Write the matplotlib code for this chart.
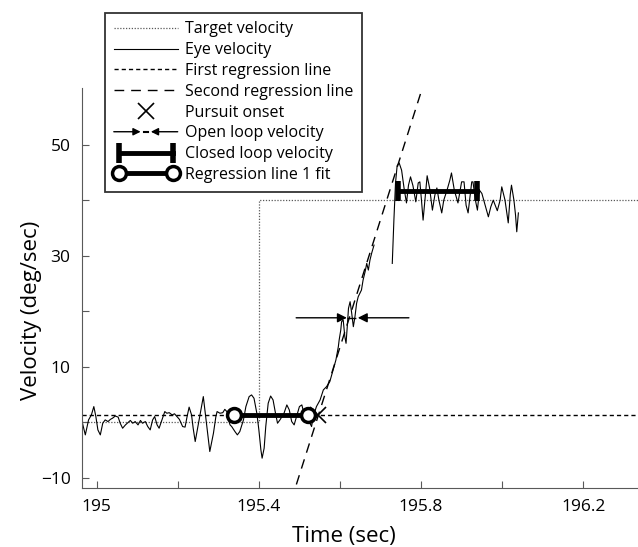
import numpy as np
import matplotlib
matplotlib.use("Agg")
import matplotlib.pyplot as plt
from matplotlib.lines import Line2D
from matplotlib.patches import FancyArrowPatch
from matplotlib.legend_handler import HandlerLine2D

plt.rcParams['font.family'] = ['Open Sans', 'DejaVu Sans']

# eye velocity trace (deg/sec), nan marks the removed saccade
eye_t = [194.964, 194.972, 194.980, 194.987, 194.993, 194.998, 195.003, 195.009, 195.015, 195.021,
         195.028, 195.034, 195.039, 195.046, 195.053, 195.058, 195.064, 195.071, 195.077, 195.083,
         195.089, 195.095, 195.102, 195.108, 195.113, 195.120, 195.126, 195.132, 195.138, 195.143,
         195.149, 195.154, 195.161, 195.168, 195.173, 195.179, 195.186, 195.192, 195.198, 195.204,
         195.212, 195.218, 195.223, 195.228, 195.234, 195.238, 195.243, 195.263, 195.279, 195.288,
         195.294, 195.297, 195.304, 195.311, 195.316, 195.321, 195.325, 195.329, 195.333, 195.341,
         195.347, 195.353, 195.362, 195.368, 195.376, 195.382, 195.388, 195.395, 195.400, 195.405,
         195.408, 195.413, 195.417, 195.423, 195.429, 195.435, 195.441, 195.446, 195.452, 195.462,
         195.469, 195.475, 195.481, 195.487, 195.493, 195.500, 195.506, 195.509, 195.514, 195.524,
         195.530, 195.534, 195.542, 195.551, 195.559, 195.567, 195.575, 195.583, 195.590, 195.593,
         195.596, 195.598, 195.602, 195.604, 195.608, 195.612, 195.615, 195.618, 195.621, 195.625,
         195.629, 195.633, 195.637, 195.641, 195.645, 195.649, 195.653, 195.657, 195.662, 195.666,
         195.670, 195.674, 195.678, 195.684, np.nan,
         195.729, 195.733, 195.737, 195.741, 195.746, 195.752, 195.758, 195.764, 195.769, 195.774,
         195.780, 195.787, 195.793, 195.797, 195.801, 195.805, 195.810, 195.815, 195.821, 195.828,
         195.834, 195.839, 195.844, 195.851, 195.856, 195.864, 195.871, 195.875, 195.882, 195.891,
         195.900, 195.906, 195.911, 195.916, 195.925, 195.928, 195.934, 195.939, 195.944, 195.950,
         195.958, 195.966, 195.972, 195.978, 195.988, 195.995, 195.999, 196.007, 196.015, 196.020,
         196.023, 196.029, 196.033, 196.036, 196.040]
eye_v = [0.1, -2.3, 0.4, 1.3, 2.8, 1.0, -1.4, -2.3, -0.2, 0.4,
         0.1, 0.5, 0.7, 1.1, 0.9, -0.2, -1.1, -0.5, -0.1, 0.3,
         -0.2, 0.1, -0.5, 0.3, -0.2, 0.1, -0.8, -1.4, 0.4, 1.0,
         -0.5, -1.1, 0.4, 1.9, 1.6, 1.7, 1.3, 1.5, 1.0, 0.5,
         -0.8, -0.9, 1.0, 2.7, 1.3, -1.1, -3.5, 4.6, -5.3, -2.0,
         1.0, 1.9, 1.6, 1.7, 2.3, 1.9, 0.4, -0.5, -0.8, -1.7,
         -2.3, -1.7, 0.4, 2.8, 4.6, 4.9, 4.3, 1.6, -1.4, -5.0,
         -6.5, -4.7, -0.8, 3.4, 4.7, 4.0, 1.6, -0.2, 0.4, 1.6,
         3.1, 2.2, 0.1, -0.5, 1.0, 2.8, 3.1, 2.2, 1.0, 0.1,
         -0.8, 1.0, 2.8, 4.0, 5.8, 6.4, 7.3, 9.4, 11.2, 12.4,
         13.6, 14.8, 16.6, 18.1, 18.4, 15.4, 14.2, 17.2, 20.5, 21.7,
         19.6, 17.2, 19.0, 21.4, 22.6, 23.2, 23.8, 25.6, 27.1, 28.6,
         27.4, 29.2, 30.4, 31.9, np.nan,
         28.6, 36.4, 43.1, 46.2, 46.7, 45.4, 42.2, 39.5, 42.7, 44.2,
         42.6, 39.7, 43.1, 43.3, 40.0, 36.4, 40.4, 44.4, 42.2, 38.2,
         40.9, 42.2, 40.0, 37.7, 40.0, 41.8, 43.6, 44.9, 41.8, 39.5,
         43.3, 43.3, 39.1, 37.7, 43.3, 43.3, 40.0, 38.2, 41.8, 41.2,
         39.1, 37.0, 38.8, 40.0, 38.1, 40.0, 42.4, 40.0, 35.9, 41.0,
         42.7, 40.0, 37.3, 34.3, 37.7]

# target step
target_step_time = 195.4
target_before = 0.0
target_after = 40.0

# regression results
reg1_level = 1.3
reg1_fit_t = [195.339, 195.521]
onset_t = 195.547
reg2_slope = 230.0  # deg/sec^2

# open loop window arrows (tail, tip)
open_left = [195.492, 195.617]
open_right = [195.770, 195.644]
open_v = 18.8

# closed loop velocity
closed_t = [195.742, 195.939]
closed_v = 41.7

x_ticks = [195.0, 195.2, 195.4, 195.6, 195.8, 196.0, 196.2]
x_labels = ['195', '', '195.4', '', '195.8', '', '196.2']
y_ticks = [-10, 0, 10, 20, 30, 40, 50]
y_labels = ['\u221210', '', '10', '', '30', '', '50']


class OpenLoopHandler:
    def legend_artist(self, legend, orig_handle, fontsize, handlebox):
        x0, y0 = handlebox.xdescent, handlebox.ydescent
        w, h = handlebox.width, handlebox.height
        ym = y0 + h / 2
        arts = [
            FancyArrowPatch((x0, ym), (x0 + 0.42 * w, ym), arrowstyle='-|>',
                            mutation_scale=11, color='k', lw=1, shrinkA=0, shrinkB=0),
            FancyArrowPatch((x0 + w, ym), (x0 + 0.58 * w, ym), arrowstyle='-|>',
                            mutation_scale=11, color='k', lw=1, shrinkA=0, shrinkB=0),
            Line2D([x0 + 0.47 * w, x0 + 0.53 * w], [ym, ym], color='k', lw=1.5),
        ]
        for a in arts:
            a.set_transform(handlebox.get_transform())
            handlebox.add_artist(a)
        return arts[0]


fig = plt.figure(figsize=(6.38, 5.47), dpi=100)
ax = fig.add_axes([0.128, 0.108, 0.872, 0.731])
xmin, xmax = 194.963, 196.335
ax.set_xlim(xmin, xmax)
ax.set_ylim(-11.86, 60.2)

h_target, = ax.plot([xmin, target_step_time, target_step_time, xmax],
                    [target_before, target_before, target_after, target_after],
                    color='0.35', lw=0.9, ls=(0, (1, 1.3)))
h_eye, = ax.plot(eye_t, eye_v, color='k', lw=0.8)
h_reg1 = ax.axhline(reg1_level, color='k', lw=1, ls=(0, (3, 2.2)))
reg2_t = np.array([xmin, xmax])
h_reg2, = ax.plot(reg2_t, reg1_level + reg2_slope * (reg2_t - onset_t),
                  color='k', lw=1, ls=(0, (7, 5)))
h_onset, = ax.plot([onset_t], [reg1_level], marker='x', color='k', ms=12, mew=1.2, ls='none')

for tail, tip in (open_left, open_right):
    ax.annotate('', xy=(tip, open_v), xytext=(tail, open_v),
                arrowprops=dict(arrowstyle='-|>', color='k', lw=1, mutation_scale=14,
                                shrinkA=0, shrinkB=0))
ax.plot([open_left[1], open_right[1]], [open_v, open_v], color='k', lw=1, ls='-.')
h_open = Line2D([], [], color='k')

h_closed, = ax.plot(closed_t, [closed_v, closed_v], color='k', lw=3.5,
                    marker='|', ms=14, mew=4)
h_fit, = ax.plot(reg1_fit_t, [reg1_level, reg1_level], color='k', lw=3.5,
                 marker='o', ms=10, mfc='white', mec='k', mew=2.5)

for s in ['top', 'right']:
    ax.spines[s].set_visible(False)
for s in ['left', 'bottom']:
    ax.spines[s].set_color('0.35')
ax.set_xticks(x_ticks)
ax.set_xticklabels(x_labels)
ax.set_yticks(y_ticks)
ax.set_yticklabels(y_labels)
ax.tick_params(direction='in', length=5, color='0.35', labelsize=12.5, pad=8)

ax.set_xlabel('Time (sec)', fontsize=16)
ax.set_ylabel('Velocity (deg/sec)', fontsize=16)
ax.xaxis.set_label_coords(0.471, -0.095)
ax.yaxis.set_label_coords(-0.072, 0.445)

labels = ['Target velocity', 'Eye velocity', 'First regression line', 'Second regression line',
          'Pursuit onset', 'Open loop velocity', 'Closed loop velocity', 'Regression line 1 fit']
handles = [h_target, h_eye, h_reg1, h_reg2, h_onset, h_open, h_closed, h_fit]
leg = fig.legend(handles, labels, loc='upper left', bbox_to_anchor=(0.1646, 0.977),
                 borderaxespad=0, fontsize=11.5, frameon=True, fancybox=False, edgecolor='k',
                 borderpad=0.55, labelspacing=0.3, handlelength=4.0, handletextpad=0.45,
                 handler_map={h_open: OpenLoopHandler(),
                              h_closed: HandlerLine2D(numpoints=2),
                              h_fit: HandlerLine2D(numpoints=2)})
leg.get_frame().set_linewidth(1.3)

fig.savefig('out.png', dpi=100)
